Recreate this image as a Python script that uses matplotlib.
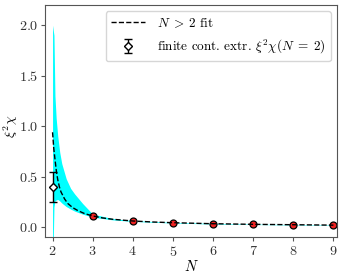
import matplotlib
matplotlib.use("Agg")
import matplotlib.pyplot as plt

plt.rcParams['font.family'] = 'serif'
plt.rcParams['font.serif'] = ['cmr10']
plt.rcParams['mathtext.fontset'] = 'cm'
plt.rcParams['axes.formatter.use_mathtext'] = True
plt.rcParams['font.size'] = 10.5

# Lattice data (N > 2)
N_pts = [3, 4, 5, 6, 7, 8, 9]
y_pts = [0.110, 0.061, 0.045, 0.035, 0.029, 0.025, 0.021]

# Fit curve
N_fit = [2.00, 2.03, 2.07, 2.10, 2.13, 2.17, 2.21, 2.30, 2.38, 2.50, 2.63, 2.80,
         3.00, 3.25, 3.50, 4.00, 4.50, 5.00, 6.00, 7.00, 8.00, 9.00]
y_fit = [0.94, 0.78, 0.64, 0.54, 0.47, 0.40, 0.35, 0.28, 0.235, 0.195, 0.165, 0.135,
         0.112, 0.092, 0.079, 0.062, 0.052, 0.045, 0.035, 0.029, 0.025, 0.021]

# Uncertainty band
N_band = [2.00, 2.035, 2.06, 2.09, 2.13, 2.18, 2.23, 2.34, 2.45, 2.55, 2.75, 3.00, 3.50,
          4.00, 5.00, 6.00, 7.00, 8.00, 9.00]
band_hi = [2.00, 1.90, 1.30, 1.08, 0.90, 0.74, 0.63, 0.48, 0.385, 0.33, 0.235, 0.13, 0.086,
           0.066, 0.048, 0.038, 0.031, 0.027, 0.023]
band_lo = [-0.50, 0.20, 0.26, 0.27, 0.275, 0.26, 0.24, 0.205, 0.18, 0.16, 0.13, 0.100, 0.073,
           0.058, 0.042, 0.032, 0.027, 0.023, 0.019]

# N = 2 finite continuum extrapolation
N2 = [2]
y2 = [0.40]
y2_err = [0.15]

fig = plt.figure(figsize=(3.43, 2.76), dpi=100)
ax = fig.add_axes([0.131, 0.140, 0.8515, 0.842])

ax.fill_between(N_band, band_lo, band_hi, color='cyan', linewidth=0, zorder=1)
ax.plot(N_pts, y_pts, 'o', ms=5, mfc='#ee2222', mec='black', mew=0.9, zorder=2)
ax.plot(N_fit, y_fit, '--', color='black', lw=1.0, zorder=3, label=r'$N\;>\;2$ fit')
ax.errorbar(N2, y2, yerr=y2_err, fmt='D', ms=4.5, mfc='white', mec='black', mew=1.0,
            ecolor='black', elinewidth=1.0, capsize=3, zorder=4,
            label=r'finite cont. extr. $\xi^2\chi(N\;=\;2)$')

ax.set_xlim(1.81, 9.09)
ax.set_ylim(-0.1, 2.2)
ax.set_xticks([2, 3, 4, 5, 6, 7, 8, 9])
ax.set_yticks([0.0, 0.5, 1.0, 1.5, 2.0])
ax.set_xlabel(r'$N$', labelpad=0)
ax.set_ylabel(r'$\xi^2\chi$', fontsize=10)
ax.yaxis.set_label_coords(-0.087, 0.48)
for s in ax.spines.values():
    s.set_color('#555555')
ax.tick_params(colors='#555555', labelcolor='#333333', length=3, pad=2.5,
               labelsize=10.2)
ax.tick_params(axis='y', pad=1.5)

leg = ax.legend(loc='upper right', frameon=True, fontsize=9.5, handlelength=2.6,
                handletextpad=0.9, borderaxespad=0.45, labelspacing=0.6)
leg.get_frame().set_edgecolor('#cccccc')

fig.savefig('out.png', dpi=100)
